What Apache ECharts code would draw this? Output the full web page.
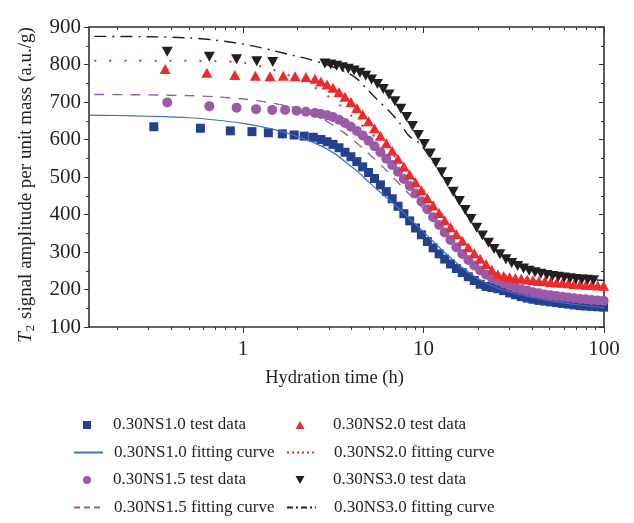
<!DOCTYPE html>
<html>
<head>
<meta charset="utf-8">
<script src="https://cdn.jsdelivr.net/npm/echarts@6/dist/echarts.min.js"></script>
<style>
  html, body { margin: 0; padding: 0; background: #fff; }
  #main { width: 634px; height: 523px; }
</style>
</head>
<body>
<div id="main"></div>
<script>
// tick positions
const majorTicks = [1, 10, 100];
const minorTicks = [0.2, 0.3, 0.4, 0.5, 0.6, 0.7, 0.8, 0.9, 2, 3, 4, 5, 6, 7, 8, 9, 20, 30, 40, 50, 60, 70, 80, 90];

// sampling times in the dense part (h)
const denseTime = [2.7, 2.92, 3.15, 3.4, 3.67, 3.96, 4.27, 4.6, 4.96, 5.35, 5.77, 6.22, 6.7, 7.22, 7.78, 8.38, 9.03, 9.73, 10.5, 11.3, 12.2, 13.1, 14.1, 15.2, 16.4, 17.7, 19.1, 20.6, 22.2, 23.9, 25.8, 27.8, 30, 32.3, 34.8, 37.5, 40.4, 43.6, 47, 50.6, 54.6, 58.8, 63.4, 68.3, 73.7, 79.4, 85.6, 92.3, 99.5];

// 0.30NS1.0 test data
const ns10Time = [0.32, 0.58, 0.85, 1.12, 1.38, 1.65, 1.92, 2.18, 2.45];
const ns10Early = [634, 630, 623, 621, 618, 615, 612, 609, 606];
const ns10Dense = [600, 594, 587, 578, 566, 554, 541, 527, 512, 496, 479, 461, 442, 422, 402, 383, 364, 346, 328, 311, 295, 281, 268, 256, 245, 234, 224, 214, 208, 205, 202, 197, 191, 186, 181, 177, 174, 171, 169, 167, 165, 163, 161, 159, 157, 156, 155, 154, 153];

// 0.30NS1.5 test data
const ns15Time = [0.38, 0.65, 0.92, 1.18, 1.45, 1.71, 1.98, 2.23, 2.5];
const ns15Early = [699, 689, 685, 681, 679, 679, 677, 674, 671];
const ns15Dense = [668, 665, 660, 653, 644, 634, 623, 611, 597, 582, 566, 549, 532, 514, 495, 476, 456, 435, 414, 393, 372, 352, 332, 313, 295, 279, 264, 251, 240, 231, 223, 216, 210, 205, 201, 197, 193, 190, 187, 185, 183, 181, 179, 177, 175, 174, 172, 171, 170];

// 0.30NS2.0 test data
const ns20Time = [0.37, 0.63, 0.9, 1.17, 1.41, 1.67, 1.94, 2.23, 2.5];
const ns20Early = [788, 778, 772, 770, 769, 770, 769, 767, 762];
const ns20Dense = [755, 747, 738, 727, 714, 700, 684, 667, 649, 630, 610, 590, 570, 549, 528, 507, 486, 465, 444, 424, 404, 385, 366, 348, 330, 313, 297, 282, 268, 253, 240, 236, 233, 231, 229, 227, 225, 223, 222, 220, 219, 218, 217, 215, 214, 213, 212, 211, 210];

// 0.30NS3.0 test data
const ns30Time = [0.38, 0.65, 0.92, 1.19, 1.46, 2.84, 3.06, 3.3, 3.55, 3.83, 4.12, 4.44, 4.78, 5.15, 5.55, 5.98, 6.44, 6.94, 7.48, 8.06, 8.68, 9.35, 10.1, 10.9, 11.7, 12.6, 13.6, 14.6, 15.8, 17, 18.3, 19.7, 21.2, 22.9, 24.6, 26.5, 28.6, 30.8, 33.2, 35.8, 38.5, 41.5, 44.7, 48.2, 51.9, 55.9, 60.3, 64.9, 70, 75.4, 81.2, 87.5];
const ns30Value = [834, 821, 814, 809, 807, 803, 800, 797, 793, 789, 784, 778, 770, 760, 748, 735, 720, 702, 682, 660, 636, 612, 588, 563, 538, 513, 487, 461, 436, 412, 388, 365, 344, 325, 308, 294, 281, 271, 263, 256, 250, 246, 242, 239, 236, 234, 232, 230, 228, 227, 226, 225];

// fitting curves
const fit10Time = [0.14, 0.2, 0.3, 0.5, 0.7, 1.0, 1.3, 1.7, 2.2, 2.7, 3.2, 3.7, 4.3, 5.0, 6.0, 7.0, 8.2, 9.5, 11, 13, 15.5, 18.5, 22, 27, 33, 42, 55, 75, 100];
const fit10Value = [665, 664, 662, 658, 652, 643, 633, 619, 601, 583, 563, 540, 515, 485, 452, 424, 393, 364, 334, 300, 268, 240, 218, 200, 188, 177, 167, 158, 151];
const fit15Time = [0.15, 0.3, 0.5, 0.7, 1.0, 1.3, 1.7, 2.1, 2.6, 3.1, 3.6, 4.1, 4.7, 5.3, 6.0, 7.0, 8.5, 10, 12.5, 15, 19, 24, 30, 40, 60, 100];
const fit15Value = [720, 719, 717, 714, 708, 701, 691, 680, 662, 640, 619, 597, 573, 550, 525, 492, 450, 415, 362, 320, 270, 232, 210, 194, 180, 168];
const fit20Time = [0.15, 0.4, 0.7, 1.0, 1.3, 1.6, 1.9, 2.2, 2.7, 3.1, 3.6, 4.15, 4.8, 5.6, 6.5, 7.6, 9, 10.5, 12.5, 15, 18, 22, 27, 35, 50, 70, 100];
const fit20Value = [810, 810, 809, 805, 793, 780, 766, 752, 729, 708, 684, 655, 628, 600, 570, 532, 490, 452, 405, 358, 310, 268, 240, 226, 218, 213, 209];
const fit30Time = [0.15, 0.3, 0.5, 0.7, 0.9, 1.2, 1.5, 1.9, 2.4, 2.8, 3.3, 3.9, 4.4, 4.8, 5.5, 6.5, 7.4, 8.3, 9.5, 11, 13, 15.5, 19, 23, 28, 35, 50, 70, 100];
const fit30Value = [875, 874, 871, 865, 858, 847, 836, 824, 812, 802, 790, 775, 757, 737, 708, 674, 643, 610, 590, 548, 497, 440, 372, 322, 285, 260, 240, 230, 224];

const FONT = 'Liberation Serif';
const INK = '#231f20';
const AXIS = '#333333';
const NO_DOT = { color: 'rgba(0,0,0,0)', borderWidth: 0 };

const zip = (ts, vs) => ts.map((t, i) => [t, vs[i]]);

const chart = echarts.init(document.getElementById('main'));

function xAxisBase(extra) {
  return Object.assign({
    type: 'log',
    logBase: 10,
    min: 0.14,
    max: 100,
    splitLine: { show: false },
    minorTick: { show: false },
    minorSplitLine: { show: false }
  }, extra);
}

function yAxisBase(extra) {
  return Object.assign({
    type: 'value',
    min: 100,
    max: 900,
    interval: 100,
    splitLine: { show: false },
    axisLine: { show: true, lineStyle: { color: AXIS, width: 1.6 } },
    minorTick: { show: true, splitNumber: 2, length: 3, lineStyle: { color: AXIS, width: 1 } }
  }, extra);
}

function legendBase(extra, padLeft) {
  return Object.assign({
    orient: 'vertical', padding: 0, itemGap: 36,
    textStyle: { fontFamily: FONT, fontSize: 17, lineHeight: 19, color: INK, padding: [0, 0, 0, padLeft] }
  }, extra);
}

const option = {
  animation: false,
  backgroundColor: '#fff',
  grid: { left: 89, right: 30, top: 27, bottom: 196, containLabel: false, outerBoundsMode: 'none' },
  xAxis: [
    xAxisBase({
      position: 'bottom',
      axisLine: { show: true, onZero: false, lineStyle: { color: AXIS, width: 1.6 } },
      axisTick: { show: true, customValues: majorTicks, length: 6, lineStyle: { color: AXIS, width: 1 } },
      axisLabel: { customValues: majorTicks, margin: 12, fontFamily: FONT, fontSize: 21, color: INK },
      name: 'Hydration time (h)',
      nameLocation: 'middle',
      nameGap: 42,
      nameTextStyle: { fontFamily: FONT, fontSize: 18.5, color: INK, padding: [0, 24, 0, 0] }
    }),
    xAxisBase({
      position: 'bottom',
      axisLine: { show: false },
      axisTick: { show: true, customValues: minorTicks, length: 3, lineStyle: { color: AXIS, width: 1 } },
      axisLabel: { show: false }
    }),
    xAxisBase({
      position: 'top',
      axisLine: { show: true, onZero: false, lineStyle: { color: AXIS, width: 1.6 } },
      axisTick: { show: true, inside: true, customValues: majorTicks, length: 6, lineStyle: { color: AXIS, width: 1 } },
      axisLabel: { show: false }
    }),
    xAxisBase({
      position: 'top',
      axisLine: { show: false },
      axisTick: { show: true, inside: true, customValues: minorTicks, length: 3, lineStyle: { color: AXIS, width: 1 } },
      axisLabel: { show: false }
    })
  ],
  yAxis: [
    yAxisBase({
      position: 'left',
      axisTick: { show: true, length: 5, lineStyle: { color: AXIS, width: 1 } },
      axisLabel: { margin: 8, fontFamily: FONT, fontSize: 21, color: INK },
      name: '{i|T}{s|2} signal amplitude per unit mass (a.u./g)',
      nameLocation: 'middle',
      nameRotate: 90,
      nameGap: 52,
      nameTextStyle: {
        fontFamily: FONT, fontSize: 19, color: INK, padding: [0, 16, 0, 0],
        rich: {
          i: { fontFamily: FONT, fontSize: 19, fontStyle: 'italic', color: INK },
          s: { fontFamily: FONT, fontSize: 13, color: INK, padding: [9, 1, 0, 1] }
        }
      }
    }),
    yAxisBase({
      position: 'right',
      axisTick: { show: true, inside: true, length: 5, lineStyle: { color: AXIS, width: 1 } },
      minorTick: { show: true, splitNumber: 2, length: 3, lineStyle: { color: AXIS, width: 1 } },
      axisLabel: { show: false }
    })
  ],
  legend: [
    legendBase({
      left: 83, top: 415.5, itemWidth: 8, itemHeight: 8,
      data: ['0.30NS1.0 test data', '0.30NS1.5 test data']
    }, 17),
    legendBase({
      left: 73, top: 443, itemWidth: 29, itemHeight: 8,
      data: [
        { name: '0.30NS1.0 fitting curve', itemStyle: NO_DOT },
        { name: '0.30NS1.5 fitting curve', itemStyle: NO_DOT, lineStyle: { type: [6, 4] } }
      ]
    }, 6),
    legendBase({
      left: 295.5, top: 415.5, itemWidth: 9, itemHeight: 8,
      data: [
        '0.30NS2.0 test data',
        { name: '0.30NS3.0 test data', icon: 'path://M0,0L10,0L5,9Z' }
      ]
    }, 23.5),
    legendBase({
      left: 286, top: 443, itemWidth: 29, itemHeight: 8,
      data: [
        { name: '0.30NS2.0 fitting curve', itemStyle: NO_DOT, lineStyle: { type: [2, 3] } },
        { name: '0.30NS3.0 fitting curve', itemStyle: NO_DOT, lineStyle: { type: [6, 3, 2, 3] } }
      ]
    }, 13)
  ],
  series: [
    {
      name: '0.30NS1.0 test data', type: 'scatter', xAxisIndex: 0, yAxisIndex: 0,
      symbol: 'rect', symbolSize: 9, z: 2,
      itemStyle: { color: '#25408f', opacity: 1 },
      data: zip(ns10Time.concat(denseTime), ns10Early.concat(ns10Dense))
    },
    {
      name: '0.30NS1.5 test data', type: 'scatter', xAxisIndex: 0, yAxisIndex: 0,
      symbol: 'circle', symbolSize: 10, z: 2,
      itemStyle: { color: '#9b5aa7', opacity: 1 },
      data: zip(ns15Time.concat(denseTime), ns15Early.concat(ns15Dense))
    },
    {
      name: '0.30NS2.0 test data', type: 'scatter', xAxisIndex: 0, yAxisIndex: 0,
      symbol: 'triangle', symbolSize: [11, 10], z: 2,
      itemStyle: { color: '#ee2b2b', opacity: 1 },
      data: zip(ns20Time.concat(denseTime), ns20Early.concat(ns20Dense))
    },
    {
      name: '0.30NS3.0 test data', type: 'scatter', xAxisIndex: 0, yAxisIndex: 0,
      symbol: 'triangle', symbolRotate: 180, symbolSize: [11, 10], z: 2,
      itemStyle: { color: '#231f20', opacity: 1 },
      data: zip(ns30Time, ns30Value)
    },
    {
      name: '0.30NS1.0 fitting curve', type: 'line', xAxisIndex: 0, yAxisIndex: 0,
      symbol: 'none', smooth: 0.3, z: 3,
      lineStyle: { color: '#3d71c5', width: 1.2 },
      itemStyle: { color: '#3d71c5' },
      data: zip(fit10Time, fit10Value)
    },
    {
      name: '0.30NS1.5 fitting curve', type: 'line', xAxisIndex: 0, yAxisIndex: 0,
      symbol: 'none', smooth: 0.3, z: 3,
      lineStyle: { color: '#9b5aa7', width: 1.4, type: [10, 8] },
      itemStyle: { color: '#9b5aa7' },
      data: zip(fit15Time, fit15Value)
    },
    {
      name: '0.30NS2.0 fitting curve', type: 'line', xAxisIndex: 0, yAxisIndex: 0,
      symbol: 'none', smooth: 0.3, z: 3,
      lineStyle: { color: '#ee2b2b', width: 2, type: [2, 13] },
      itemStyle: { color: '#ee2b2b' },
      data: zip(fit20Time, fit20Value)
    },
    {
      name: '0.30NS3.0 fitting curve', type: 'line', xAxisIndex: 0, yAxisIndex: 0,
      symbol: 'none', smooth: 0.3, z: 3,
      lineStyle: { color: '#231f20', width: 1.4, type: [12, 6, 2, 6] },
      itemStyle: { color: '#231f20' },
      data: zip(fit30Time, fit30Value)
    }
  ]
};

chart.setOption(option);
</script>
</body>
</html>
